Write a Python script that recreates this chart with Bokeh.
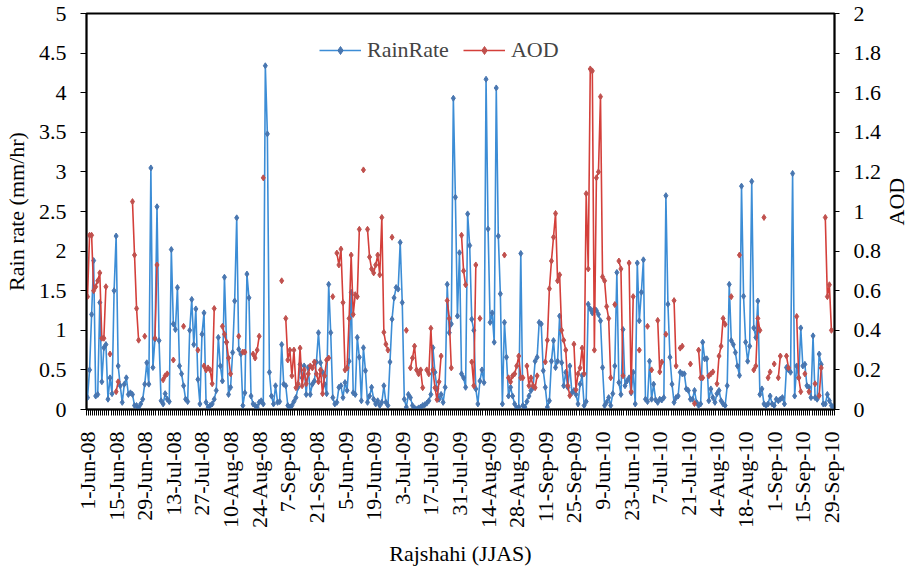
import numpy as np
from bokeh.plotting import figure
from bokeh.layouts import row
from bokeh.models import (ColumnDataSource, LinearAxis, Range1d, FixedTicker,
                          NumeralTickFormatter, Legend, LegendItem)
from bokeh.core.properties import value
from bokeh.embed import file_html
from bokeh.resources import INLINE

# ---------------- data (daily, 1 Jun - 30 Sep of each year) ----------------
rain_2008 = [
    0.15, 0.50, 1.20, 1.88, 0.17, 0.19, 1.35, 0.35, 0.78, 0.82,
    0.13, 0.40, 0.20, 1.50, 2.19, 0.55, 0.30, 0.09, 0.32, 0.40,
    0.19, 0.21, 0.19, 0.05, 0.05, 0.02, 0.07, 0.13, 0.32, 0.59,
    0.32, 3.05, 0.53, 0.89, 2.56, 0.87, 0.11, 0.07, 0.20, 0.13,
    0.10, 2.02, 1.08, 1.01, 1.54, 0.55, 0.45, 0.30, 0.13, 0.10,
    1.00, 1.39, 0.82, 1.27, 0.38, 0.07, 0.95, 1.22, 0.09, 0.03,
    0.05, 0.07, 0.13, 0.24, 0.91, 0.55, 0.36, 1.67, 0.85, 0.19,
    0.28, 0.72, 1.37, 2.42, 0.76, 0.70, 0.05, 0.21, 1.71, 1.41,
    0.17, 0.07, 0.05, 0.03, 0.09, 0.11, 0.07, 4.34, 3.48, 0.47,
    0.17, 0.07, 0.30, 0.09, 0.10, 0.82, 0.32, 0.30, 0.05, 0.03,
    0.05, 0.10, 0.15, 0.28, 0.57, 0.40, 0.55, 0.19, 0.53, 0.19,
    0.32, 0.36, 0.60, 0.97, 0.59, 0.47, 0.32, 0.20, 1.58, 0.97,
    0.15, 0.07,
]
rain_2009 = [
    0.09, 0.28, 0.30, 0.15, 0.34, 0.24, 0.61, 1.48, 0.21, 0.19,
    0.91, 0.66, 0.11, 0.78, 0.49, 0.09, 0.17, 0.28, 0.13, 0.07,
    0.11, 0.05, 0.09, 0.30, 0.09, 0.05, 0.60, 1.14, 1.41, 1.54,
    1.52, 2.11, 1.35, 0.13, 0.03, 0.19, 0.15, 0.05, 0.02, 0.00,
    0.02, 0.03, 0.05, 0.06, 0.08, 0.11, 0.19, 0.78, 0.47, 0.26,
    0.13, 0.19, 0.09, 0.28, 1.58, 0.97, 1.08, 3.93, 2.68, 1.18,
    1.98, 0.45, 0.40, 0.28, 2.47, 2.07, 1.14, 1.00, 0.26, 0.07,
    0.36, 0.50, 0.34, 4.17, 2.28, 1.10, 1.22, 0.85, 4.06, 2.19,
    1.46, 0.07, 1.10, 0.66, 0.17, 0.28, 0.17, 0.07, 0.02, 0.03,
    1.97, 0.05, 0.03, 0.10, 0.17, 0.24, 0.28, 0.61, 0.66, 1.10,
    1.08, 0.49, 0.28, 0.03, 0.11, 0.61, 0.87, 0.53, 0.61, 1.18,
    0.59, 0.30, 0.47, 0.28, 0.55, 0.21, 0.24, 0.19, 0.07, 0.32,
    0.43, 0.05,
]
rain_2010 = [
    0.10, 1.33, 1.27, 1.22, 1.27, 1.25, 1.20, 1.12, 0.53, 0.05,
    0.09, 0.15, 0.05, 0.20, 0.55, 1.73, 0.34, 0.19, 1.01, 0.30,
    0.36, 0.40, 0.21, 0.47, 0.07, 1.85, 1.12, 1.48, 1.89, 0.13,
    0.10, 0.61, 0.13, 0.32, 0.12, 0.09, 0.13, 0.12, 0.15, 2.70,
    1.33, 0.66, 0.32, 0.09, 0.15, 0.17, 0.47, 0.45, 0.45, 0.26,
    0.24, 0.13, 0.13, 0.24, 0.09, 0.05, 0.07, 0.85, 0.64, 0.64,
    0.11, 0.26, 0.15, 0.09, 0.20, 0.24, 0.11, 0.07, 0.05, 0.30,
    1.58, 0.87, 0.82, 0.72, 0.55, 0.43, 2.82, 1.43, 0.85, 0.61,
    0.80, 2.88, 1.03, 0.91, 1.37, 0.19, 0.26, 0.07, 0.05, 0.07,
    0.17, 0.07, 0.05, 0.13, 0.11, 0.13, 0.15, 0.07, 0.53, 0.50,
    0.47, 2.98, 0.17, 0.55, 0.40, 1.03, 0.55, 0.57, 0.30, 0.28,
    0.15, 0.93, 0.15, 0.13, 0.70, 0.57, 0.07, 0.07, 0.19, 0.11,
    0.05, 0.03,
]
N = None
aod_2008 = [
    0.57, 0.88, 0.88, 0.60, 0.62, 0.65, 0.69, 0.36, 0.36, 0.62,
    N, 0.28, N, N, 0.09, 0.14, N, N, N, N,
    N, N, 1.05, 0.78, 0.51, 0.35, N, N, 0.37, N,
    N, N, N, 0.36, 0.73, N, N, 0.15, 0.17, 0.18,
    N, N, 0.25, N, N, N, N, 0.42, N, N,
    N, N, N, N, 0.30, N, N, 0.22, 0.20, 0.21,
    0.20, 0.13, 0.51, N, N, N, 0.42, 0.38, 0.34, 0.26,
    0.18, N, N, N, 0.37, N, 0.29, 0.29, N, N,
    N, 0.28, 0.26, 0.30, 0.37, N, 1.17, N, N, N,
    N, N, N, N, N, 0.65, N, 0.46, 0.25, 0.30,
    0.17, 0.30, 0.11, 0.13, 0.31, 0.12, 0.20, 0.13, 0.18, 0.22,
    0.21, 0.24, 0.18, 0.14, 0.20, 0.08, 0.17, 0.25, 0.26, N,
    0.57, N,
]
aod_2009 = [
    0.79, 0.73, 0.81, 0.54, 0.20, 0.21, 0.46, 0.78, 0.48, 0.58,
    0.57, 0.91, N, 1.21, N, 0.91, 0.77, 0.71, 0.69, 0.73,
    0.78, 0.68, 0.97, 0.39, 0.33, 0.30, N, 0.87, N, N,
    N, N, N, N, 0.40, N, 0.21, 0.26, 0.32, 0.20,
    0.18, 0.20, 0.11, N, 0.20, 0.18, 0.41, 0.20, 0.11, 0.05,
    0.14, 0.27, N, N, 0.55, 0.46, 0.21, N, N, N,
    N, 0.88, 0.70, 0.63, N, N, 0.24, 0.12, 0.73, N,
    0.46, N, N, N, N, N, N, N, N, N,
    N, N, 0.78, N, 0.16, 0.14, 0.17, 0.18, 0.22, 0.27,
    0.16, 0.16, N, 0.22, 0.12, 0.16, 0.12, 0.11, 0.17, N,
    N, N, 0.24, 0.35, 0.61, 0.75, 0.87, 0.99, 0.65, 0.68,
    0.40, 0.35, 0.30, 0.12, 0.07, N, 0.33, 0.10, 0.18, 0.21,
    0.31, 0.18,
]
aod_2010 = [
    1.09, 0.71, 1.72, 1.71, 0.30, 1.17, 1.20, 1.58, 0.67, 0.65,
    0.52, 0.46, 0.16, N, 0.53, N, 0.75, 0.71, 0.17, N,
    N, 0.74, 0.09, 0.57, N, N, 0.30, N, N, N,
    0.42, N, 0.20, N, N, 0.45, 0.19, 0.24, N, 0.38,
    N, N, N, 0.55, 0.22, N, 0.31, 0.32, N, N,
    N, 0.23, N, 0.03, N, 0.30, 0.16, 0.16, N, N,
    0.17, 0.18, 0.19, N, 0.13, 0.27, 0.32, 0.46, 0.43, N,
    N, 0.57, N, N, N, 0.78, N, N, N, N,
    N, N, 0.20, 0.22, 0.46, 0.40, N, 0.97, N, 0.16,
    0.19, N, 0.23, N, 0.16, 0.27, N, N, 0.27, 0.21,
    N, N, N, 0.47, 0.16, 0.09, N, 0.18, N, 0.09,
    N, N, 0.13, N, 0.07, 0.21, N, 0.97, 0.57, 0.63,
    0.40, N,
]
tick_labels = ["1-Jun-08", "15-Jun-08", "29-Jun-08", "13-Jul-08", "27-Jul-08",
               "10-Aug-08", "24-Aug-08", "7-Sep-08", "21-Sep-08", "5-Jun-09",
               "19-Jun-09", "3-Jul-09", "17-Jul-09", "31-Jul-09", "14-Aug-09",
               "28-Aug-09", "11-Sep-09", "25-Sep-09", "9-Jun-10", "23-Jun-10",
               "7-Jul-10", "21-Jul-10", "4-Aug-10", "18-Aug-10", "1-Sep-10",
               "15-Sep-10", "29-Sep-10"]
rain_ticks = [0, 0.5, 1, 1.5, 2, 2.5, 3, 3.5, 4, 4.5, 5]
aod_ticks = [0, 0.2, 0.4, 0.6, 0.8, 1.0, 1.2, 1.4, 1.6, 1.8, 2.0]

# ---------------- build ----------------
FONT = "Liberation Serif, Times New Roman, DejaVu Serif, serif"
BLUE_LINE, BLUE_MK = "#3C8DD6", "#4876B0"
RED_LINE, RED_MK = "#D43F3A", "#C0504D"
MAIN_W, SIDE_W, H = 884, 23, 569
TOP, BOTTOM = 13, 160

rain = rain_2008 + rain_2009 + rain_2010
aod = [np.nan if v is None else v for v in aod_2008 + aod_2009 + aod_2010]
n = len(rain)
day = list(range(n))
src = ColumnDataSource(dict(day=day, rain=rain, aod=aod))
aod_range = Range1d(0, 2)

p = figure(width=MAIN_W, height=H, output_backend="svg", toolbar_location=None,
           x_range=Range1d(-0.5, n - 0.5), y_range=Range1d(0, 5),
           min_border_left=86, min_border_right=MAIN_W - 834,
           min_border_top=TOP, min_border_bottom=BOTTOM)
p.extra_y_ranges = {"aod": aod_range}
p.xgrid.visible = False
p.ygrid.visible = False
p.outline_line_color = "black"
p.outline_line_width = 2
p.background_fill_color = "white"
p.border_fill_color = "white"

l1 = p.line("day", "rain", source=src, line_color=BLUE_LINE, line_width=1.6)
s1 = p.scatter("day", "rain", source=src, marker="diamond", size=6,
               fill_color=BLUE_MK, line_color=BLUE_MK)
l2 = p.line("day", "aod", source=src, y_range_name="aod",
            line_color=RED_LINE, line_width=1.6)
s2 = p.scatter("day", "aod", source=src, y_range_name="aod", marker="diamond",
               size=6, fill_color=RED_MK, line_color=RED_MK)


def style(ax):
    ax.axis_line_color = "black"
    ax.axis_line_width = 1.5
    ax.major_tick_line_color = "black"
    ax.major_tick_in = 0
    ax.major_tick_out = 6
    ax.minor_tick_line_color = None
    ax.major_label_text_font = FONT
    ax.major_label_text_font_size = "22px"
    ax.major_label_text_color = "black"
    ax.axis_label_text_font = FONT
    ax.axis_label_text_font_size = "22px"
    ax.axis_label_text_font_style = "normal"
    ax.axis_label_text_color = "black"


# left axis
ya = p.yaxis[0]
style(ya)
ya.ticker = FixedTicker(ticks=rain_ticks)
ya.formatter = NumeralTickFormatter(format="0.[0]")
ya.major_label_standoff = 14
ya.axis_label = "Rain rate (mm/hr)"
ya.axis_label_standoff = 7

# right axis (title drawn in a slim side panel so it reads bottom-to-top)
yr = LinearAxis(y_range_name="aod")
style(yr)
yr.major_tick_out = 5
yr.ticker = FixedTicker(ticks=aod_ticks)
yr.formatter = NumeralTickFormatter(format="0.[0]")
yr.major_label_standoff = 14
p.add_layout(yr, "right")

# bottom axis
tick_days = list(range(0, n, 14))
xa = p.xaxis[0]
style(xa)
xa.ticker = FixedTicker(ticks=tick_days, minor_ticks=[i - 0.5 for i in range(n + 1)])
xa.major_label_overrides = {d: lab for d, lab in zip(tick_days, tick_labels)}
xa.major_label_orientation = np.pi / 2
xa.major_tick_out = 0
xa.minor_tick_line_color = "black"
xa.minor_tick_in = 0
xa.minor_tick_out = 6
xa.major_label_standoff = 16
xa.axis_label = "Rajshahi (JJAS)"
xa.axis_label_standoff = 10

legend = Legend(items=[LegendItem(label="RainRate", renderers=[l1, s1]),
                       LegendItem(label="AOD", renderers=[l2, s2])],
                orientation="horizontal", location=(233, 346),
                border_line_alpha=0, background_fill_alpha=0,
                label_text_font=FONT, label_text_font_size="22px",
                glyph_width=42, label_standoff=6, spacing=14,
                padding=0, margin=0)
p.add_layout(legend)

# side panel holding the secondary-axis title
side = figure(width=SIDE_W, height=H, output_backend="svg", toolbar_location=None,
              x_range=Range1d(0, 1), y_range=aod_range,
              x_axis_location=None, y_axis_location=None,
              min_border_left=0, min_border_right=0,
              min_border_top=TOP, min_border_bottom=BOTTOM)
side.xgrid.visible = False
side.ygrid.visible = False
side.outline_line_color = None
side.border_fill_color = "white"
side.text(x=[0.5], y=[1.05], text=["AOD"], angle=np.pi / 2,
          text_align="center", text_baseline="middle",
          text_font=value(FONT), text_font_size="22px", text_color="black")

layout = row(p, side)
open("out.html", "w").write(file_html(layout, INLINE))
